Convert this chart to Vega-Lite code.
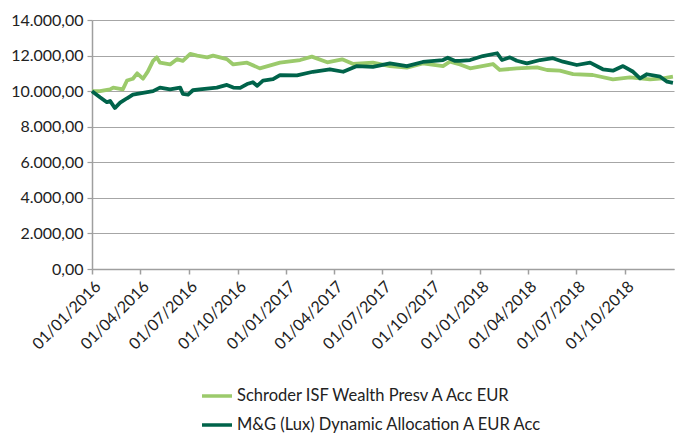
{
  "$schema": "https://vega.github.io/schema/vega-lite/v6.json",
  "width": 582,
  "height": 249,
  "autosize": {"type": "none"},
  "padding": {"left": 92, "top": 20, "right": 2, "bottom": 166},
  "config": {
    "view": {"stroke": null},
    "font": "Lato",
    "locale": {"number": {"decimal": ",", "thousands": ".", "grouping": [3], "currency": ["", " €"]}}
  },
  "data": {"values": [
    {"date": "2016-01-01", "fund": "Schroder ISF Wealth Presv A Acc EUR", "value": 10000},
    {"date": "2016-01-16", "fund": "Schroder ISF Wealth Presv A Acc EUR", "value": 10000},
    {"date": "2016-02-04", "fund": "Schroder ISF Wealth Presv A Acc EUR", "value": 10100},
    {"date": "2016-02-10", "fund": "Schroder ISF Wealth Presv A Acc EUR", "value": 10200},
    {"date": "2016-02-28", "fund": "Schroder ISF Wealth Presv A Acc EUR", "value": 10100},
    {"date": "2016-03-07", "fund": "Schroder ISF Wealth Presv A Acc EUR", "value": 10600},
    {"date": "2016-03-18", "fund": "Schroder ISF Wealth Presv A Acc EUR", "value": 10700},
    {"date": "2016-03-26", "fund": "Schroder ISF Wealth Presv A Acc EUR", "value": 11000},
    {"date": "2016-04-06", "fund": "Schroder ISF Wealth Presv A Acc EUR", "value": 10700},
    {"date": "2016-04-15", "fund": "Schroder ISF Wealth Presv A Acc EUR", "value": 11100},
    {"date": "2016-04-25", "fund": "Schroder ISF Wealth Presv A Acc EUR", "value": 11700},
    {"date": "2016-05-02", "fund": "Schroder ISF Wealth Presv A Acc EUR", "value": 11900},
    {"date": "2016-05-08", "fund": "Schroder ISF Wealth Presv A Acc EUR", "value": 11600},
    {"date": "2016-05-27", "fund": "Schroder ISF Wealth Presv A Acc EUR", "value": 11500},
    {"date": "2016-06-09", "fund": "Schroder ISF Wealth Presv A Acc EUR", "value": 11800},
    {"date": "2016-06-20", "fund": "Schroder ISF Wealth Presv A Acc EUR", "value": 11700},
    {"date": "2016-07-04", "fund": "Schroder ISF Wealth Presv A Acc EUR", "value": 12100},
    {"date": "2016-07-17", "fund": "Schroder ISF Wealth Presv A Acc EUR", "value": 12000},
    {"date": "2016-08-05", "fund": "Schroder ISF Wealth Presv A Acc EUR", "value": 11900},
    {"date": "2016-08-16", "fund": "Schroder ISF Wealth Presv A Acc EUR", "value": 12000},
    {"date": "2016-08-29", "fund": "Schroder ISF Wealth Presv A Acc EUR", "value": 11900},
    {"date": "2016-09-11", "fund": "Schroder ISF Wealth Presv A Acc EUR", "value": 11800},
    {"date": "2016-09-23", "fund": "Schroder ISF Wealth Presv A Acc EUR", "value": 11500},
    {"date": "2016-10-19", "fund": "Schroder ISF Wealth Presv A Acc EUR", "value": 11600},
    {"date": "2016-11-12", "fund": "Schroder ISF Wealth Presv A Acc EUR", "value": 11280},
    {"date": "2016-12-20", "fund": "Schroder ISF Wealth Presv A Acc EUR", "value": 11600},
    {"date": "2017-01-27", "fund": "Schroder ISF Wealth Presv A Acc EUR", "value": 11750},
    {"date": "2017-02-18", "fund": "Schroder ISF Wealth Presv A Acc EUR", "value": 11940},
    {"date": "2017-03-19", "fund": "Schroder ISF Wealth Presv A Acc EUR", "value": 11620},
    {"date": "2017-04-16", "fund": "Schroder ISF Wealth Presv A Acc EUR", "value": 11790},
    {"date": "2017-05-07", "fund": "Schroder ISF Wealth Presv A Acc EUR", "value": 11525},
    {"date": "2017-06-13", "fund": "Schroder ISF Wealth Presv A Acc EUR", "value": 11600},
    {"date": "2017-07-15", "fund": "Schroder ISF Wealth Presv A Acc EUR", "value": 11410},
    {"date": "2017-08-16", "fund": "Schroder ISF Wealth Presv A Acc EUR", "value": 11320},
    {"date": "2017-09-15", "fund": "Schroder ISF Wealth Presv A Acc EUR", "value": 11560},
    {"date": "2017-10-23", "fund": "Schroder ISF Wealth Presv A Acc EUR", "value": 11410},
    {"date": "2017-11-05", "fund": "Schroder ISF Wealth Presv A Acc EUR", "value": 11655},
    {"date": "2017-11-24", "fund": "Schroder ISF Wealth Presv A Acc EUR", "value": 11500},
    {"date": "2017-12-13", "fund": "Schroder ISF Wealth Presv A Acc EUR", "value": 11283},
    {"date": "2018-01-25", "fund": "Schroder ISF Wealth Presv A Acc EUR", "value": 11525},
    {"date": "2018-02-07", "fund": "Schroder ISF Wealth Presv A Acc EUR", "value": 11190},
    {"date": "2018-03-11", "fund": "Schroder ISF Wealth Presv A Acc EUR", "value": 11283},
    {"date": "2018-04-18", "fund": "Schroder ISF Wealth Presv A Acc EUR", "value": 11340},
    {"date": "2018-05-07", "fund": "Schroder ISF Wealth Presv A Acc EUR", "value": 11190},
    {"date": "2018-05-31", "fund": "Schroder ISF Wealth Presv A Acc EUR", "value": 11150},
    {"date": "2018-06-25", "fund": "Schroder ISF Wealth Presv A Acc EUR", "value": 10960},
    {"date": "2018-08-01", "fund": "Schroder ISF Wealth Presv A Acc EUR", "value": 10907},
    {"date": "2018-09-08", "fund": "Schroder ISF Wealth Presv A Acc EUR", "value": 10665},
    {"date": "2018-10-10", "fund": "Schroder ISF Wealth Presv A Acc EUR", "value": 10777},
    {"date": "2018-11-17", "fund": "Schroder ISF Wealth Presv A Acc EUR", "value": 10665},
    {"date": "2018-12-11", "fund": "Schroder ISF Wealth Presv A Acc EUR", "value": 10720},
    {"date": "2018-12-30", "fund": "Schroder ISF Wealth Presv A Acc EUR", "value": 10810},
    {"date": "2016-01-01", "fund": "M&G (Lux) Dynamic Allocation A EUR Acc", "value": 10000},
    {"date": "2016-01-16", "fund": "M&G (Lux) Dynamic Allocation A EUR Acc", "value": 9660},
    {"date": "2016-01-29", "fund": "M&G (Lux) Dynamic Allocation A EUR Acc", "value": 9380},
    {"date": "2016-02-04", "fund": "M&G (Lux) Dynamic Allocation A EUR Acc", "value": 9450},
    {"date": "2016-02-13", "fund": "M&G (Lux) Dynamic Allocation A EUR Acc", "value": 9050},
    {"date": "2016-02-23", "fund": "M&G (Lux) Dynamic Allocation A EUR Acc", "value": 9350},
    {"date": "2016-03-07", "fund": "M&G (Lux) Dynamic Allocation A EUR Acc", "value": 9600},
    {"date": "2016-03-18", "fund": "M&G (Lux) Dynamic Allocation A EUR Acc", "value": 9800},
    {"date": "2016-04-06", "fund": "M&G (Lux) Dynamic Allocation A EUR Acc", "value": 9900},
    {"date": "2016-04-25", "fund": "M&G (Lux) Dynamic Allocation A EUR Acc", "value": 10000},
    {"date": "2016-05-08", "fund": "M&G (Lux) Dynamic Allocation A EUR Acc", "value": 10200},
    {"date": "2016-05-27", "fund": "M&G (Lux) Dynamic Allocation A EUR Acc", "value": 10100},
    {"date": "2016-06-15", "fund": "M&G (Lux) Dynamic Allocation A EUR Acc", "value": 10200},
    {"date": "2016-06-20", "fund": "M&G (Lux) Dynamic Allocation A EUR Acc", "value": 9850},
    {"date": "2016-06-30", "fund": "M&G (Lux) Dynamic Allocation A EUR Acc", "value": 9800},
    {"date": "2016-07-09", "fund": "M&G (Lux) Dynamic Allocation A EUR Acc", "value": 10050},
    {"date": "2016-07-22", "fund": "M&G (Lux) Dynamic Allocation A EUR Acc", "value": 10100},
    {"date": "2016-08-23", "fund": "M&G (Lux) Dynamic Allocation A EUR Acc", "value": 10200},
    {"date": "2016-09-11", "fund": "M&G (Lux) Dynamic Allocation A EUR Acc", "value": 10350},
    {"date": "2016-09-23", "fund": "M&G (Lux) Dynamic Allocation A EUR Acc", "value": 10200},
    {"date": "2016-10-06", "fund": "M&G (Lux) Dynamic Allocation A EUR Acc", "value": 10180},
    {"date": "2016-10-19", "fund": "M&G (Lux) Dynamic Allocation A EUR Acc", "value": 10400},
    {"date": "2016-10-30", "fund": "M&G (Lux) Dynamic Allocation A EUR Acc", "value": 10500},
    {"date": "2016-11-07", "fund": "M&G (Lux) Dynamic Allocation A EUR Acc", "value": 10300},
    {"date": "2016-11-18", "fund": "M&G (Lux) Dynamic Allocation A EUR Acc", "value": 10590},
    {"date": "2016-12-07", "fund": "M&G (Lux) Dynamic Allocation A EUR Acc", "value": 10670},
    {"date": "2016-12-20", "fund": "M&G (Lux) Dynamic Allocation A EUR Acc", "value": 10900},
    {"date": "2017-01-21", "fund": "M&G (Lux) Dynamic Allocation A EUR Acc", "value": 10890},
    {"date": "2017-02-20", "fund": "M&G (Lux) Dynamic Allocation A EUR Acc", "value": 11090},
    {"date": "2017-03-24", "fund": "M&G (Lux) Dynamic Allocation A EUR Acc", "value": 11230},
    {"date": "2017-04-18", "fund": "M&G (Lux) Dynamic Allocation A EUR Acc", "value": 11090},
    {"date": "2017-05-14", "fund": "M&G (Lux) Dynamic Allocation A EUR Acc", "value": 11410},
    {"date": "2017-06-13", "fund": "M&G (Lux) Dynamic Allocation A EUR Acc", "value": 11370},
    {"date": "2017-07-15", "fund": "M&G (Lux) Dynamic Allocation A EUR Acc", "value": 11560},
    {"date": "2017-08-16", "fund": "M&G (Lux) Dynamic Allocation A EUR Acc", "value": 11410},
    {"date": "2017-09-15", "fund": "M&G (Lux) Dynamic Allocation A EUR Acc", "value": 11640},
    {"date": "2017-10-23", "fund": "M&G (Lux) Dynamic Allocation A EUR Acc", "value": 11750},
    {"date": "2017-11-01", "fund": "M&G (Lux) Dynamic Allocation A EUR Acc", "value": 11880},
    {"date": "2017-11-15", "fund": "M&G (Lux) Dynamic Allocation A EUR Acc", "value": 11700},
    {"date": "2017-11-24", "fund": "M&G (Lux) Dynamic Allocation A EUR Acc", "value": 11700},
    {"date": "2017-12-13", "fund": "M&G (Lux) Dynamic Allocation A EUR Acc", "value": 11750},
    {"date": "2018-01-06", "fund": "M&G (Lux) Dynamic Allocation A EUR Acc", "value": 11975},
    {"date": "2018-02-02", "fund": "M&G (Lux) Dynamic Allocation A EUR Acc", "value": 12130},
    {"date": "2018-02-11", "fund": "M&G (Lux) Dynamic Allocation A EUR Acc", "value": 11750},
    {"date": "2018-02-26", "fund": "M&G (Lux) Dynamic Allocation A EUR Acc", "value": 11900},
    {"date": "2018-03-11", "fund": "M&G (Lux) Dynamic Allocation A EUR Acc", "value": 11710},
    {"date": "2018-03-30", "fund": "M&G (Lux) Dynamic Allocation A EUR Acc", "value": 11565},
    {"date": "2018-04-24", "fund": "M&G (Lux) Dynamic Allocation A EUR Acc", "value": 11750},
    {"date": "2018-05-18", "fund": "M&G (Lux) Dynamic Allocation A EUR Acc", "value": 11850},
    {"date": "2018-06-06", "fund": "M&G (Lux) Dynamic Allocation A EUR Acc", "value": 11655},
    {"date": "2018-07-02", "fund": "M&G (Lux) Dynamic Allocation A EUR Acc", "value": 11470},
    {"date": "2018-07-27", "fund": "M&G (Lux) Dynamic Allocation A EUR Acc", "value": 11600},
    {"date": "2018-08-20", "fund": "M&G (Lux) Dynamic Allocation A EUR Acc", "value": 11230},
    {"date": "2018-09-08", "fund": "M&G (Lux) Dynamic Allocation A EUR Acc", "value": 11150},
    {"date": "2018-09-27", "fund": "M&G (Lux) Dynamic Allocation A EUR Acc", "value": 11410},
    {"date": "2018-10-16", "fund": "M&G (Lux) Dynamic Allocation A EUR Acc", "value": 11090},
    {"date": "2018-10-29", "fund": "M&G (Lux) Dynamic Allocation A EUR Acc", "value": 10720},
    {"date": "2018-11-11", "fund": "M&G (Lux) Dynamic Allocation A EUR Acc", "value": 10950},
    {"date": "2018-12-06", "fund": "M&G (Lux) Dynamic Allocation A EUR Acc", "value": 10810},
    {"date": "2018-12-19", "fund": "M&G (Lux) Dynamic Allocation A EUR Acc", "value": 10530},
    {"date": "2018-12-30", "fund": "M&G (Lux) Dynamic Allocation A EUR Acc", "value": 10470}
  ]},
  "mark": {"type": "line", "strokeWidth": 3.8, "strokeJoin": "round"},
  "encoding": {
    "x": {
      "field": "date", "type": "temporal",
      "scale": {"type": "utc", "domain": ["2016-01-01", "2019-01-01"]},
      "axis": {
        "title": null,
        "labelExpr": "utcFormat(datum.value, '%d/%m/%Y')",
        "values": ["2016-01-01", "2016-04-01", "2016-07-01", "2016-10-01", "2017-01-01", "2017-04-01", "2017-07-01", "2017-10-01", "2018-01-01", "2018-04-01", "2018-07-01", "2018-10-01"],
        "labelAngle": -45, "labelAlign": "right", "labelBaseline": "top",
        "labelFontSize": 16, "labelColor": "#222222", "labelPadding": 4,
        "grid": false, "domainColor": "#9f9f9f", "domainWidth": 1.5,
        "tickColor": "#9f9f9f", "tickSize": 5, "tickWidth": 1.5, "labelFlush": false, "labelOverlap": false
      }
    },
    "y": {
      "field": "value", "type": "quantitative",
      "scale": {"domain": [0, 14000], "nice": false},
      "axis": {
        "title": null, "format": ",.2f", "values": [0, 2000, 4000, 6000, 8000, 10000, 12000, 14000],
        "labelFontSize": 16, "labelColor": "#222222", "labelPadding": 4,
        "gridColor": "#a6a6a6", "gridWidth": 1.2, "domainColor": "#9f9f9f", "domainWidth": 1.5,
        "tickColor": "#9f9f9f", "tickSize": 5, "tickWidth": 1.2
      }
    },
    "color": {
      "field": "fund", "type": "nominal",
      "scale": {"domain": ["Schroder ISF Wealth Presv A Acc EUR", "M&G (Lux) Dynamic Allocation A EUR Acc"], "range": ["#9bca6b", "#00634a"]},
      "legend": {
        "title": null, "orient": "none", "legendX": 108, "legendY": 359, "direction": "vertical",
        "symbolType": "stroke", "symbolSize": 900, "symbolStrokeWidth": 3.5,
        "labelFontSize": 16.5, "labelColor": "#222222", "rowPadding": 3, "labelOffset": 3, "labelLimit": 400
      }
    }
  }
}
